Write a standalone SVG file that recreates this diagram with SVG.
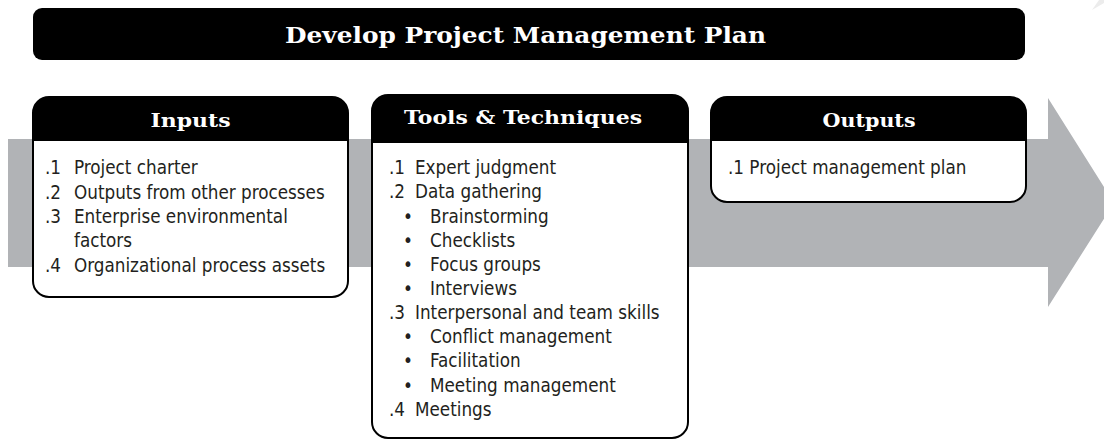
<svg xmlns="http://www.w3.org/2000/svg" width="1104" height="440" viewBox="0 0 1104 440">
<style>
.hdr{font-family:"DejaVu Serif","Liberation Serif",serif;font-weight:bold;fill:#fff;text-anchor:middle}
.body{font-family:"DejaVu Sans Condensed","Liberation Sans",Arial,sans-serif;font-stretch:condensed;font-size:18.7px;fill:#231f20}
.box{fill:#fff;stroke:#000;stroke-width:2}
.cap{fill:#000}
</style>
<rect width="1104" height="440" fill="#fff"/>
<polygon points="1092,10 1099,0 1104,0 1104,3" fill="#ececec"/>
<g id="connectors">
<polygon points="8,139 1048,139 1048,98 1114,203 1048,307 1048,267 8,267" fill="#b1b3b6"/>
</g>
<g id="title">
<rect x="33" y="8" width="992" height="52" rx="9" fill="#000"/>
<text class="hdr" x="525.5" y="43" font-size="23" textLength="481" lengthAdjust="spacingAndGlyphs">Develop Project Management Plan</text>
</g>
<g id="inputs">
<rect class="box" x="33" y="97" width="315" height="200" rx="16"/>
<path class="cap" d="M33,141 V113 A16,16 0 0 1 49,97 H332 A16,16 0 0 1 348,113 V141 Z"/>
<text class="hdr" x="190.5" y="127" font-size="18" textLength="80" lengthAdjust="spacingAndGlyphs">Inputs</text>
<text class="body" x="45" y="174">.1</text><text class="body" x="74" y="174">Project charter</text>
<text class="body" x="45" y="199">.2</text><text class="body" x="74" y="199">Outputs from other processes</text>
<text class="body" x="45" y="223">.3</text><text class="body" x="74" y="223">Enterprise environmental</text>
<text class="body" x="74" y="247">factors</text>
<text class="body" x="45" y="272">.4</text><text class="body" x="74" y="272">Organizational process assets</text>
</g>
<g id="tools">
<rect class="box" x="372" y="95" width="316" height="343" rx="16"/>
<path class="cap" d="M372,143 V111 A16,16 0 0 1 388,95 H672 A16,16 0 0 1 688,111 V143 Z"/>
<text class="hdr" x="523" y="124" font-size="18" textLength="238" lengthAdjust="spacingAndGlyphs">Tools &amp; Techniques</text>
<text class="body" x="389" y="174">.1</text><text class="body" x="415" y="174">Expert judgment</text>
<text class="body" x="389" y="198">.2</text><text class="body" x="415" y="198">Data gathering</text>
<text class="body" x="403" y="223">•</text><text class="body" x="430" y="223">Brainstorming</text>
<text class="body" x="403" y="247">•</text><text class="body" x="430" y="247">Checklists</text>
<text class="body" x="403" y="271">•</text><text class="body" x="430" y="271">Focus groups</text>
<text class="body" x="403" y="295">•</text><text class="body" x="430" y="295">Interviews</text>
<text class="body" x="389" y="319">.3</text><text class="body" x="415" y="319">Interpersonal and team skills</text>
<text class="body" x="403" y="343">•</text><text class="body" x="430" y="343">Conflict management</text>
<text class="body" x="403" y="367">•</text><text class="body" x="430" y="367">Facilitation</text>
<text class="body" x="403" y="392">•</text><text class="body" x="430" y="392">Meeting management</text>
<text class="body" x="389" y="416">.4</text><text class="body" x="415" y="416">Meetings</text>
</g>
<g id="outputs">
<rect class="box" x="711" y="97" width="315" height="105" rx="16"/>
<path class="cap" d="M711,141 V113 A16,16 0 0 1 727,97 H1010 A16,16 0 0 1 1026,113 V141 Z"/>
<text class="hdr" x="869" y="127" font-size="18" textLength="93" lengthAdjust="spacingAndGlyphs">Outputs</text>
<text class="body" x="728" y="174">.1 Project management plan</text>
</g>
</svg>
